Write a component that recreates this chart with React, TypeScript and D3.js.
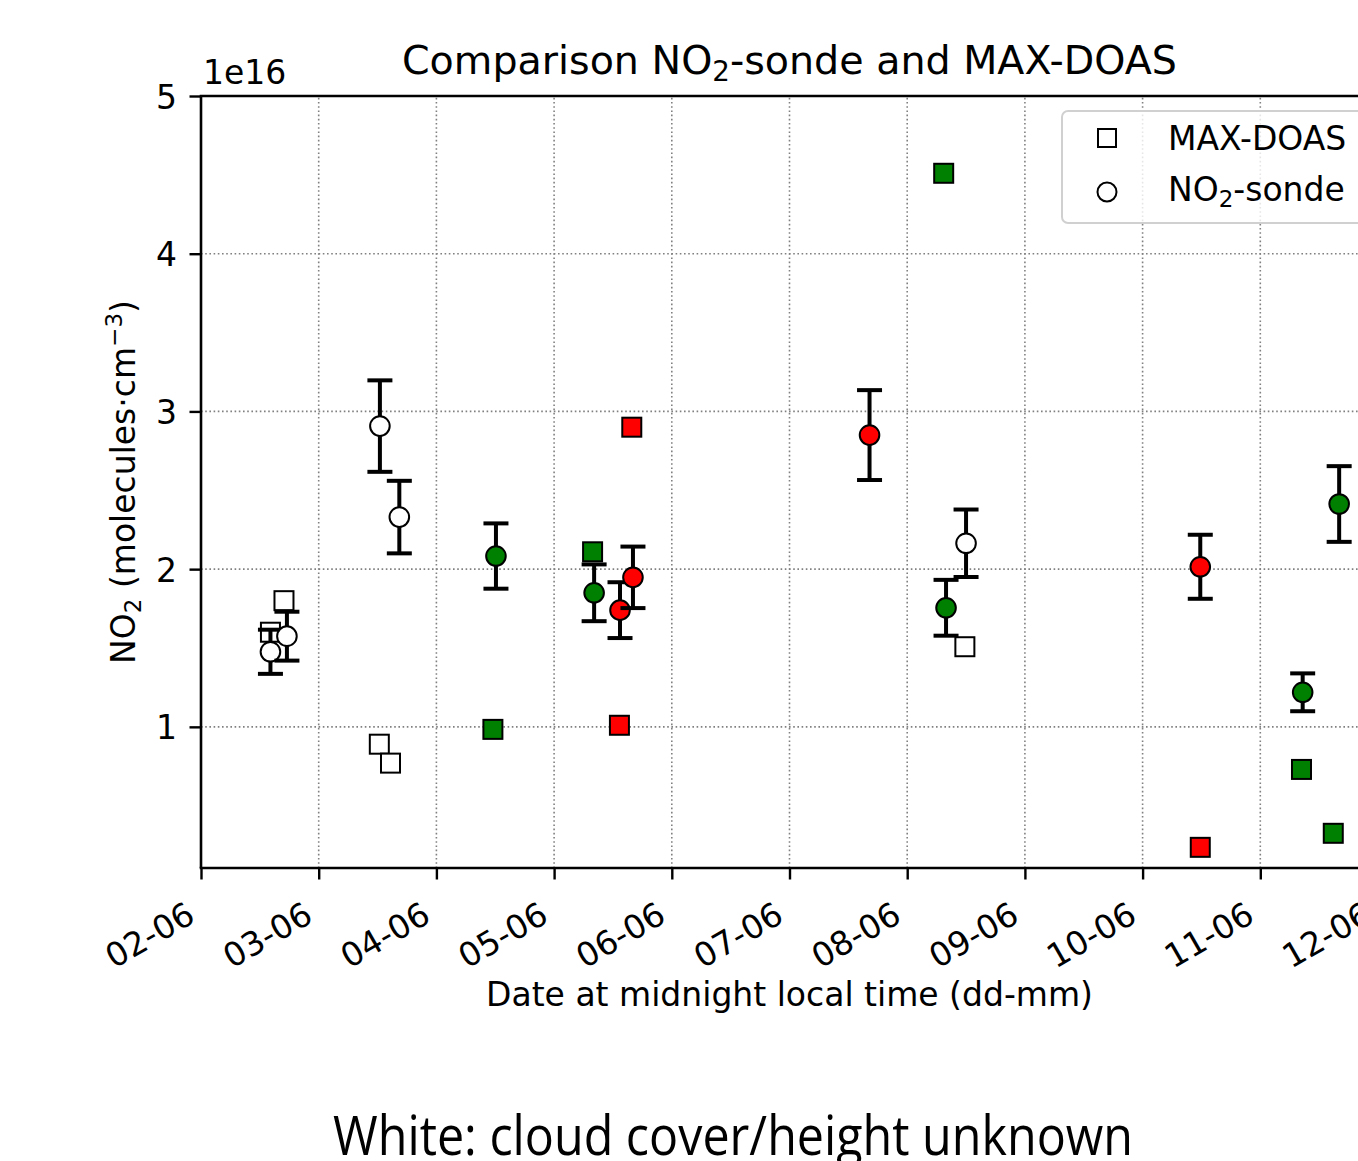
import React, { useEffect, useRef } from "react";
import * as d3 from "d3";

// values in units of 1e16 molecules/cm3, days are fractional day of June
const sondeDays = [2.59, 2.73, 3.52, 3.685, 4.506, 5.34, 5.56, 5.67, 7.68, 8.33, 8.5, 10.49, 11.36, 11.67];
const sondeValues = [1.476, 1.575, 2.907, 2.33, 2.083, 1.85, 1.74, 1.948, 2.85, 1.755, 2.164, 2.015, 1.219, 2.413];
const sondeErrors = [0.14, 0.155, 0.29, 0.23, 0.207, 0.18, 0.177, 0.195, 0.285, 0.177, 0.214, 0.203, 0.12, 0.24];
const sondeColors = ["white", "white", "white", "white", "green", "green", "red", "red", "red", "green", "white", "red", "green", "green"];

const doasDays = [2.59, 2.705, 3.515, 3.61, 4.48, 5.327, 5.555, 5.66, 8.31, 8.49, 10.49, 11.35, 11.62];
const doasValues = [1.6, 1.8, 0.89, 0.77, 0.984, 2.11, 1.01, 2.9, 4.51, 1.508, 0.236, 0.73, 0.325];
const doasColors = ["white", "white", "white", "white", "green", "green", "red", "red", "green", "white", "red", "green", "green"];

const xTicks = [2, 3, 4, 5, 6, 7, 8, 9, 10, 11, 12];
const xTickLabels = ["02-06", "03-06", "04-06", "05-06", "06-06", "07-06", "08-06", "09-06", "10-06", "11-06", "12-06"];
const yTicks = [1, 2, 3, 4, 5];

const App = () => {
    const svgRef = useRef<SVGSVGElement>(null);
    const width = 1358;
    const height = 1161;
    const margin = { top: 96, right: -20, bottom: 293, left: 201 };
    const font = "DejaVu Sans";

    useEffect(() => {
        const svg = d3.select(svgRef.current);
        svg.selectAll("*").remove();

        const x = d3.scaleLinear().domain([2, 12]).range([margin.left, width - margin.right]);
        const y = d3.scaleLinear().domain([0.105, 5]).range([height - margin.bottom, margin.top]);
        const x0 = margin.left, x1 = width - margin.right;
        const y0 = height - margin.bottom, y1 = margin.top;

        // grid
        const grid = svg.append("g").attr("stroke", "#808080").attr("stroke-width", 1.6).attr("stroke-dasharray", "1.6,2.6");
        grid.selectAll(".vg").data(xTicks).enter().append("line")
            .attr("x1", d => x(d)).attr("x2", d => x(d)).attr("y1", y0).attr("y2", y1);
        grid.selectAll(".hg").data(yTicks).enter().append("line")
            .attr("x1", x0).attr("x2", x1).attr("y1", d => y(d)).attr("y2", d => y(d));

        // MAX-DOAS squares
        const side = 19;
        svg.append("g").selectAll("rect").data(doasDays).enter().append("rect")
            .attr("x", (d) => x(d) - side / 2)
            .attr("y", (d, i) => y(doasValues[i]) - side / 2)
            .attr("width", side).attr("height", side)
            .attr("fill", (d, i) => doasColors[i])
            .attr("stroke", "black").attr("stroke-width", 2);

        // sonde error bars + circles, drawn point by point
        const sg = svg.append("g");
        sondeDays.forEach((d, i) => {
            const cx = x(d);
            const top = y(sondeValues[i] + sondeErrors[i]);
            const bot = y(sondeValues[i] - sondeErrors[i]);
            sg.append("line").attr("x1", cx).attr("x2", cx).attr("y1", top).attr("y2", bot)
                .attr("stroke", "black").attr("stroke-width", 4);
            [top, bot].forEach(cy => {
                sg.append("line").attr("x1", cx - 12.5).attr("x2", cx + 12.5).attr("y1", cy).attr("y2", cy)
                    .attr("stroke", "black").attr("stroke-width", 4);
            });
            sg.append("circle").attr("cx", cx).attr("cy", y(sondeValues[i])).attr("r", 9.8)
                .attr("fill", sondeColors[i]).attr("stroke", "black").attr("stroke-width", 2);
        });

        // axes
        const xAxis = svg.append("g").attr("transform", `translate(0,${y0})`);
        xAxis.call(d3.axisBottom(x).tickValues(xTicks).tickSize(11.5).tickFormat(() => ""));
        const yAxis = svg.append("g").attr("transform", `translate(${x0},0)`);
        yAxis.call(d3.axisLeft(y).tickValues(yTicks).tickSize(11.5).tickFormat(() => ""));
        svg.selectAll(".domain").remove();
        svg.selectAll(".tick line").attr("stroke", "black").attr("stroke-width", 2.4);

        svg.append("line").attr("x1", x0).attr("x2", x0).attr("y1", y0).attr("y2", y1).attr("stroke", "black").attr("stroke-width", 2.6);
        svg.append("line").attr("x1", x0 - 1.3).attr("x2", x1).attr("y1", y0).attr("y2", y0).attr("stroke", "black").attr("stroke-width", 2.6);
        svg.append("line").attr("x1", x0 - 1.3).attr("x2", x1).attr("y1", y1).attr("y2", y1).attr("stroke", "black").attr("stroke-width", 2.6);

        svg.append("g").selectAll("text").data(xTicks).enter().append("text")
            .attr("transform", d => `translate(${x(d) - 4},921) rotate(-30)`)
            .attr("text-anchor", "end")
            .attr("font-family", font).attr("font-size", 33)
            .text((d, i) => xTickLabels[i]);

        svg.append("g").selectAll("text").data(yTicks).enter().append("text")
            .attr("x", 177).attr("y", d => y(d) + 12.5)
            .attr("text-anchor", "end")
            .attr("font-family", font).attr("font-size", 33)
            .text(d => d);

        svg.append("text").attr("x", 203).attr("y", 84)
            .attr("font-family", font).attr("font-size", 33).text("1e16");

        // title
        const title = svg.append("text").attr("x", (x0 + x1) / 2).attr("y", 74)
            .attr("text-anchor", "middle").attr("font-family", font).attr("font-size", 39.6);
        title.append("tspan").text("Comparison NO");
        title.append("tspan").attr("font-size", 27.7).attr("dy", 7).text("2");
        title.append("tspan").attr("dy", -7).text("-sonde and MAX-DOAS");

        // axis labels
        svg.append("text").attr("x", (x0 + x1) / 2).attr("y", 1006)
            .attr("text-anchor", "middle").attr("font-family", font).attr("font-size", 33)
            .text("Date at midnight local time (dd-mm)");

        const yl = svg.append("text").attr("transform", `translate(135,${(y0 + y1) / 2}) rotate(-90)`)
            .attr("text-anchor", "middle").attr("font-family", font).attr("font-size", 33);
        yl.append("tspan").text("NO");
        yl.append("tspan").attr("font-size", 23).attr("dy", 6).text("2");
        yl.append("tspan").attr("dy", -6).text(" (molecules·cm");
        yl.append("tspan").attr("font-size", 23).attr("dy", -13).text("−3");
        yl.append("tspan").attr("dy", 13).text(")");

        // legend
        const lg = svg.append("g");
        lg.append("rect").attr("x", 1062).attr("y", 111).attr("width", 306).attr("height", 112).attr("rx", 6)
            .attr("fill", "white").attr("fill-opacity", 0.8).attr("stroke", "#d0d0d0").attr("stroke-width", 2);
        lg.append("rect").attr("x", 1107 - 9).attr("y", 138 - 9).attr("width", 18).attr("height", 18)
            .attr("fill", "white").attr("stroke", "black").attr("stroke-width", 2);
        lg.append("circle").attr("cx", 1107).attr("cy", 192).attr("r", 9.5)
            .attr("fill", "white").attr("stroke", "black").attr("stroke-width", 2);
        lg.append("text").attr("x", 1168).attr("y", 150).attr("font-family", font).attr("font-size", 33).text("MAX-DOAS");
        const l2 = lg.append("text").attr("x", 1168).attr("y", 201).attr("font-family", font).attr("font-size", 33);
        l2.append("tspan").text("NO");
        l2.append("tspan").attr("font-size", 23).attr("dy", 6).text("2");
        l2.append("tspan").attr("dy", -6).text("-sonde");

        // caption
        svg.append("text").attr("x", 333).attr("y", 1155)
            .attr("font-family", "'Liberation Sans Narrow', 'Open Sans', sans-serif").attr("font-size", 54)
            .attr("textLength", 800).attr("lengthAdjust", "spacingAndGlyphs")
            .text("White: cloud cover/height unknown");
    }, []);

    return (
        <svg ref={svgRef} width={width} height={height}
            style={{ position: "absolute", left: 0, top: 0, background: "white" }} />
    );
};

export default App;
